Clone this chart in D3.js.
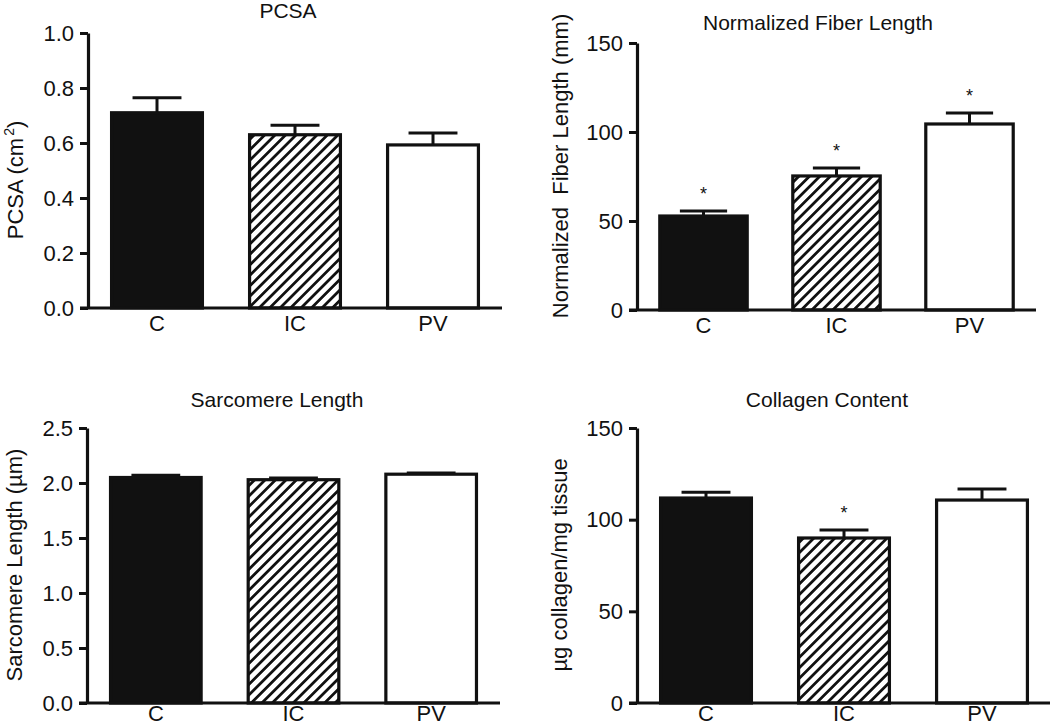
<!DOCTYPE html>
<html>
<head>
<meta charset="utf-8">
<script src="https://cdn.jsdelivr.net/npm/d3@7"></script>
<style>
  html, body { margin: 0; padding: 0; background: #fff; }
  svg { display: block; }
  text { font-family: "Liberation Sans", Arial, Helvetica, sans-serif; fill: #111; }
</style>
</head>
<body>
<svg id="chart" width="1050" height="727"></svg>
<script>
// ---- data ----
const categories = ["C", "IC", "PV"];

const pcsaMean = [0.71, 0.63, 0.593];
const pcsaErr = [0.055, 0.035, 0.043];
const pcsaTicks = [0, 0.2, 0.4, 0.6, 0.8, 1.0];
const pcsaStars = [false, false, false];

const fiberMean = [52.8, 75.3, 104.5];
const fiberErr = [2.8, 4.5, 6.2];
const fiberTicks = [0, 50, 100, 150];
const fiberStars = [true, true, true];

const sarcMean = [2.05, 2.03, 2.08];
const sarcErr = [0.02, 0.015, 0.01];
const sarcTicks = [0, 0.5, 1.0, 1.5, 2.0, 2.5];
const sarcStars = [false, false, false];

const collMean = [111.8, 90.0, 110.7];
const collErr = [3.2, 4.4, 6.0];
const collTicks = [0, 50, 100, 150];
const collStars = [false, true, false];

// ---- layout ----
const panels = [
  { title: "PCSA", ylabel: ["PCSA (cm", "2", ")"], mean: pcsaMean, err: pcsaErr, ticks: pcsaTicks, stars: pcsaStars,
    max: 1.0, fmt: d3.format(".1f"), x0: 88, x1: 502, yTop: 33, yBot: 308, titleX: 288, titleY: 18, labX: 23, labY: 180, catDy: 23 },
  { title: "Normalized Fiber Length", ylabel: ["Normalized  Fiber Length (mm)"], mean: fiberMean, err: fiberErr, ticks: fiberTicks, stars: fiberStars,
    max: 150, fmt: d3.format("d"), x0: 637, x1: 1036, yTop: 43, yBot: 310, titleX: 818, titleY: 30, labX: 568, labY: 166, catDy: 23 },
  { title: "Sarcomere Length", ylabel: ["Sarcomere Length (\u00b5m)"], mean: sarcMean, err: sarcErr, ticks: sarcTicks, stars: sarcStars,
    max: 2.5, fmt: d3.format(".1f"), x0: 87, x1: 500, yTop: 428, yBot: 703, titleX: 277, titleY: 407, labX: 22, labY: 565, catDy: 18 },
  { title: "Collagen Content", ylabel: ["\u00b5g collagen/mg tissue"], mean: collMean, err: collErr, ticks: collTicks, stars: collStars,
    max: 150, fmt: d3.format("d"), x0: 637, x1: 1051, yTop: 428, yBot: 703, titleX: 827, titleY: 407, labX: 567, labY: 565, catDy: 18 }
];

const svg = d3.select("#chart");

// hatch pattern
const defs = svg.append("defs");
const pat = defs.append("pattern")
  .attr("id", "hatch")
  .attr("patternUnits", "userSpaceOnUse")
  .attr("width", 7.4).attr("height", 10)
  .attr("patternTransform", "rotate(45)");
pat.append("rect").attr("width", 7.4).attr("height", 10).attr("fill", "#fff");
pat.append("line").attr("x1", 1.4).attr("x2", 1.4).attr("y1", 0).attr("y2", 10)
  .attr("stroke", "#111").attr("stroke-width", 2.8);

const fills = ["#111", "url(#hatch)", "#fff"];

panels.forEach(p => {
  const g = svg.append("g");
  const x = d3.scaleBand().domain(categories).range([p.x0, p.x1]).paddingInner(0.32).paddingOuter(0.16);
  const y = d3.scaleLinear().domain([0, p.max]).range([p.yBot, p.yTop]);

  const rows = categories.map((c, i) => ({ c, m: p.mean[i], e: p.err[i], s: p.stars[i], f: fills[i] }));

  // error bars (upper only)
  rows.forEach(r => {
    const cx = x(r.c) + x.bandwidth() / 2;
    const cw = x.bandwidth() / 2;
    g.append("line").attr("x1", cx).attr("x2", cx).attr("y1", y(r.m)).attr("y2", y(r.m + r.e))
      .attr("stroke", "#111").attr("stroke-width", 3);
    g.append("line").attr("x1", cx - cw / 2 - 1).attr("x2", cx + cw / 2 + 1)
      .attr("y1", y(r.m + r.e)).attr("y2", y(r.m + r.e))
      .attr("stroke", "#111").attr("stroke-width", 3);
    if (r.s) {
      g.append("text").attr("x", cx).attr("y", y(r.m + r.e) - 11)
        .attr("text-anchor", "middle").attr("font-size", 18).text("*");
    }
  });

  g.selectAll("rect.bar").data(rows).enter().append("rect")
    .attr("class", "bar")
    .attr("x", d => x(d.c) + 1.5)
    .attr("width", x.bandwidth() - 3)
    .attr("y", d => y(d.m))
    .attr("height", d => y(0) - y(d.m))
    .attr("fill", d => d.f)
    .attr("stroke", "#111")
    .attr("stroke-width", 3.2)
    .attr("stroke-linejoin", "miter");

  // y axis
  const ax = g.append("g").attr("transform", `translate(${p.x0},0)`)
    .call(d3.axisLeft(y).tickValues(p.ticks).tickFormat(p.fmt).tickSize(8).tickSizeOuter(0).tickPadding(6));
  ax.select(".domain").attr("stroke", "#111").attr("stroke-width", 3.2);
  ax.selectAll(".tick line").attr("stroke", "#111").attr("stroke-width", 3);
  ax.selectAll(".tick text").attr("font-size", 22).attr("fill", "#111")
    .style("font-family", '"Liberation Sans", Arial, sans-serif');

  // x axis baseline
  g.append("line").attr("x1", p.x0 - 8).attr("x2", p.x1).attr("y1", y(0)).attr("y2", y(0))
    .attr("stroke", "#111").attr("stroke-width", 3.2);

  // category labels
  g.selectAll("text.cat").data(categories).enter().append("text")
    .attr("class", "cat")
    .attr("x", d => x(d) + x.bandwidth() / 2)
    .attr("y", y(0) + p.catDy)
    .attr("text-anchor", "middle")
    .attr("font-size", 22)
    .text(d => d);

  // title
  g.append("text").attr("x", p.titleX).attr("y", p.titleY)
    .attr("text-anchor", "middle").attr("font-size", 21).text(p.title);

  // y label
  const t = g.append("text")
    .attr("transform", `translate(${p.labX},${p.labY}) rotate(-90)`)
    .attr("text-anchor", "middle").attr("font-size", 22)
    .attr("xml:space", "preserve")
    .style("white-space", "pre");
  p.ylabel.forEach((s, i) => {
    const ts = t.append("tspan").text(s);
    if (p.ylabel.length === 3 && i === 1) {
      ts.attr("font-size", 14).attr("dy", -9).attr("dx", 2);
    } else if (p.ylabel.length === 3 && i === 2) {
      ts.attr("dy", 9);
    }
  });
});
</script>
</body>
</html>
